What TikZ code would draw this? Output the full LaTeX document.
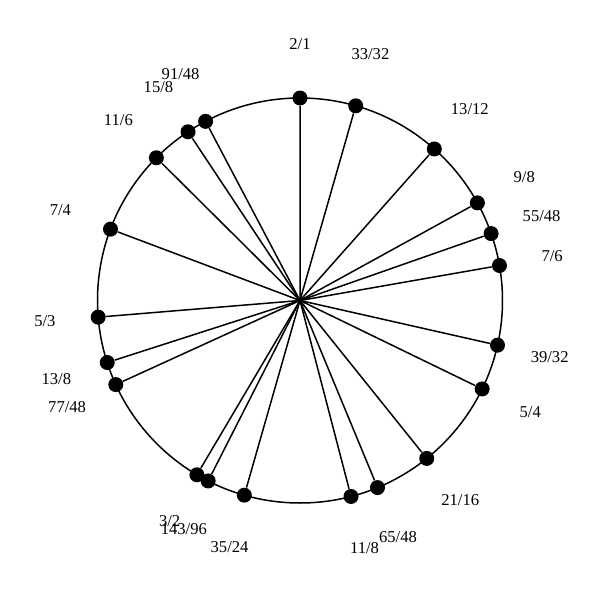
\documentclass[tikz,border=0pt]{standalone}
\usepackage{fontspec}
\setmainfont{Liberation Serif}
\usetikzlibrary{positioning}

\begin{document}
\begin{tikzpicture}[x=0.5pt, y=0.5pt,
  dot/.style={circle, fill=black, inner sep=0pt, minimum size=7.5pt},
  lbl/.style={inner sep=0pt, font=\fontsize{8.3}{10}\selectfont}]
  \useasboundingbox (-300,-299.5) rectangle (300,300.5);
  \coordinate (c) at (0,0);
  \draw[line width=0.75pt] (c) circle (202.5);
  \foreach \p/\q [count=\i] in {2/1,33/32,13/12,9/8,55/48,7/6,39/32,5/4,21/16,65/48,11/8,35/24,143/96,3/2,77/48,13/8,5/3,7/4,11/6,15/8,91/48} {
    \pgfmathsetmacro\ang{90-360*ln(\p/\q)/ln(2)}
    \node[dot] (d\i) at (\ang:202.5) {};
    \draw[line width=0.75pt] (c) -- (d\i);
    \node[lbl] (l\i) at (\ang:256) {\p/\q};
  }
\end{tikzpicture}
\end{document}
